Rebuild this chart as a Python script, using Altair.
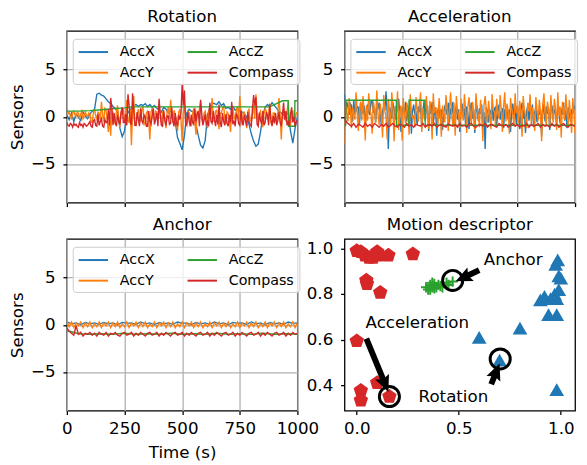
import math
import altair as alt
import pandas as pd

FONT = "DejaVu Sans"

# ---------------- time-series data ----------------
ROT_ACCX_STEP = 10
ROT_ACCX = [0.2, -0.3, 0.4, -0.5, 0.3, 0.0, -0.4, 0.5, 0.1, -0.2,
            0.3, 0.6, 0.8, 2.4, 2.5, 2.3, 2.2, 1.9, 1.6, 1.4,
            1.1, 0.9, 0.5, -1.2, -2.1, -1.5, 0.2, 0.6, 0.9, 1.2,
            1.3, 1.1, 1.3, 1.2, 1.4, 1.1, 1.3, 1.0, 1.2, 0.9,
            0.7, 0.5, 1.0, 0.8, 0.4, 0.6, 0.3, -0.5, -2.2, -2.8,
            -3.5, -2.0, 0.4, 0.8, 0.6, 0.5, -0.8, -2.0, -3.0, -3.3,
            -2.5, 0.2, 1.0, 1.5, 1.4, 1.3, 1.6, 1.2, 1.4, 0.9,
            1.0, 0.8, 1.1, 0.7, 0.9, 0.6, 0.5, 0.3, 0.0, -0.8,
            -1.8, -2.6, -3.1, -2.9, -1.6, 0.2, 1.0, 1.3, 1.1, 1.5,
            1.2, 0.9, 0.6, 0.4, 0.2, 0.5, 0.3, -1.5, -2.8, -1.2,
            0.0]
ROT_ACCY_STEP = 5
ROT_ACCY = [0.9, 0.3, 0.5, 0.1, -0.3, 0.4, 0.6, 0.2, 0.1, 0.5, 0.4, -0.2, 0.3, 0.6, -0.2, 0.1, 0.5, 0.2, 0.0, 0.4,
            0.3, -0.5, -0.6, 0.4, 0.8, 0.1, -0.2, 0.5, 0.4, -0.3, 1.6, 0.2, -0.5, 0.9, 0.7, -0.4, -1.6, 0.3, -2.0, 0.6,
            0.5, -0.4, -0.8, 0.6, 1.2, -0.2, -1.1, 0.4, 0.3, 0.9, -0.4, 0.2, 1.8, -0.5, -0.6, 0.8, -3.0, 0.5, 2.2, -0.7,
            -1.0, 0.3, 0.8, -0.2, -0.4, 0.7, 1.1, -0.6, -0.9, 0.4, 0.6, -0.3, -2.4, 0.5, 0.9, -0.1, -0.3, 0.6, 0.5, -0.4,
            1.3, 0.2, -0.7, 0.5, 0.4, -0.3, -1.2, 0.6, 1.0, -0.2, 1.8, 0.3, -0.6, 0.7, 0.2, -0.4, -1.5, 0.5, 0.8, -0.3,
            -2.6, 0.4, 1.4, -0.2, -0.8, 0.6, 0.5, -0.5, -1.0, 0.3, 0.9, -0.4, -1.9, 0.5, 0.3, 0.8, 1.6, -0.3, -0.7, 0.4,
            0.6, -0.2, -1.2, 0.5, 1.0, 0.2, 2.0, -0.4, -0.5, 0.6, 0.7, -0.3, -1.3, 0.4, 0.4, 0.9, 1.2, -0.2, -0.8, 0.5,
            0.3, -0.4, -1.6, 0.6, 0.9, 0.1, -0.4, 0.7, 1.1, -0.3, 2.2, 0.4, -0.9, 0.5, 0.5, -0.2, -1.2, 0.6, 0.8, -0.4,
            -0.5, 0.3, 1.3, -0.2, 2.4, 0.5, -0.7, 0.4, 0.6, -0.5, -1.1, 0.3, 0.9, 0.6, -0.3, 0.2, 1.4, -0.6, -0.9, 0.4,
            0.4, -0.3, -0.6, 0.5, 2.0, 0.3, -2.4, 0.4, 0.7, -0.2, -0.4, 0.6, 1.5, -0.3, -1.0, 0.5, 0.6, -0.2, -0.3, 0.4,
            0.5]
ROT_COMPASS_STEP = 5
ROT_COMPASS = [-0.6, -0.9, -1.0, -0.7, -0.8, -1.1, -0.7, -0.9, -0.8, -1.0, -1.1, -0.6, -0.9, -0.8, -1.1, -0.7, -0.8, -1.0, -0.9, -0.7,
               -0.5, -1.0, -1.1, -0.4, -0.3, -0.9, -1.0, 0.3, -0.9, -0.5, -0.2, -1.0, -1.1, -0.3, -0.6, -0.6, 0.8, -0.9, 2.0, 1.0,
               -0.9, 0.4, -0.6, -1.0, 0.2, -0.5, -0.8, 0.5, 1.0, -0.6, -0.6, 0.3, -0.9, 2.4, 1.2, -0.5, -0.9, 2.5, 0.6, -0.9,
               -0.9, 0.5, -0.3, -1.0, 0.9, -0.4, -0.7, 0.2, 0.0, -1.0, -1.0, 0.6, -0.5, -0.8, 0.1, 0.9, -0.8, -0.3, 0.4, -1.0,
               1.9, 0.3, -0.9, -1.0, 0.7, -0.4, -0.9, 0.1, 0.1, -0.8, -0.7, 1.0, -0.5, -1.0, 0.4, -0.6, -1.0, 0.2, -0.3, 0.4,
               3.5, 1.2, 2.8, -0.7, -0.9, 0.5, -0.4, -1.0, 0.2, -0.6, -0.8, 0.9, -0.5, 0.3, 0.6, -1.0, 1.8, 0.3, -0.9, -0.4,
               0.3, -0.9, -0.5, -1.0, 1.5, -0.5, -0.7, 0.6, -0.3, -1.0, 0.2, -0.8, 1.3, -0.6, -1.1, 0.4, -0.5, -0.9, 0.3, -0.7,
               -1.0, 0.2, -0.6, 1.6, -0.8, -0.4, -1.0, 0.3, 0.1, -0.7, -0.9, 0.7, -0.5, -0.9, 0.2, -0.4, -1.0, 0.5, -0.5, -0.8,
               -1.0, 0.9, 2.3, 1.2, 2.1, -0.8, -1.0, 0.4, -0.4, -0.8, 0.6, -0.9, -0.6, 0.5, 0.2, -0.9, 1.3, -0.3, -1.0, 0.1,
               -0.7, 0.4, -0.9, -0.4, 0.5, -0.6, -1.0, 0.2, 1.5, -0.3, 0.6, -0.9, -0.5, -1.0, 0.3, 1.0, -0.6, 0.0, -1.0, -0.5,
               -0.4]
ROT_ACCZ_T = [0, 50, 100, 150, 200, 250, 280, 500, 880, 935, 960, 961, 988, 989, 1000]
ROT_ACCZ = [0.6, 0.6, 0.65, 0.75, 0.85, 0.95, 1.05, 1.05, 1.05, 1.7, 1.7, -1.0, -1.0, 1.7, 1.7]

ACC_ACCX_STEP = 5
ACC_ACCX = [2.4, 0.6, 1.6, 1.0, 0.2, 1.4, 1.2, -0.5, 1.8, 0.3, 0.6, 1.1, 1.0, -0.8, 1.5, 0.7, 0.4, 1.2, -1.2, 0.9,
            1.3, 0.5, 0.2, 1.6, 1.7, 0.4, 0.9, -0.6, 1.2, 0.8, 1.5, 0.3, -1.0, 0.6, 1.1, 0.7, 2.7, 0.4, -3.4, 1.0,
            0.7, -0.2, 1.5, 0.9, -0.3, 1.2, 0.6, 1.9, 0.1, -1.6, 1.0, 0.5, 0.4, 1.6, -0.5, 0.8, 0.9, 1.8, -1.8, 0.6,
            1.3, 0.2, 0.6, -0.9, 1.1, 0.5, 1.4, -1.3, 0.6, 1.7, -0.4, 0.8, 1.2, -1.5, 0.9, 0.3, 1.6, -0.7, 0.5, 1.0,
            -2.0, 0.7, 1.3, -0.2, 0.8, -1.4, 0.4, 1.1, 0.9, 0.2, 1.5, -0.6, 0.9, 0.3, 1.6, -1.0, 0.5, 1.2, -0.3, 0.8,
            -1.6, 0.6, 1.4, 0.0, 0.9, -0.8, 1.1, 0.4, -1.3, 0.7, 1.5, -0.2, 0.8, -1.7, 0.6, 1.2, -0.4, 0.9, 0.3, 1.3,
            -1.1, 0.5, -3.4, 1.0, 0.6, -0.6, 0.7, 0.2, 1.4, -0.4, 0.8, 1.1, -0.9, 0.5, 1.3, -0.3, 0.6, 0.9, -1.2, 0.8,
            0.5, 1.2, -0.3, 0.8, -1.6, 0.6, 1.4, 0.0, 0.9, -0.8, 1.1, 0.4, -1.3, 0.7, 1.5, -0.2, 0.8, -1.7, 0.6, 1.2,
            -0.4, 0.9, 0.3, 1.3, -1.1, 0.5, 1.0, -0.6, 0.7, 0.2, 0.8, -2.0, 1.4, 0.6, -0.5, 1.1, 0.3, 0.9, -1.4, 0.7,
            1.2, -0.3, 0.8, 0.4, -1.0, 1.3, 0.6, -0.7, 0.9, 0.2, 1.5, -0.4, 0.7, -1.2, 1.0, 0.5, -0.5, 0.8, 0.3, 1.1,
            0.8]
ACC_ACCY_STEP = 5
ACC_ACCY = [-2.8, 1.5, 0.4, -0.5, 2.0, 0.8, -1.2, 1.0, 0.2, -0.3, 2.6, 0.5, -1.5, 0.8, 1.6, -0.4, 2.2, 0.3, -2.5, 1.2,
            -0.4, 2.5, 0.7, 0.3, -1.8, 1.6, 0.9, -0.6, 2.8, 0.4, -0.9, 1.4, 0.1, -2.2, 2.3, 0.6, 0.0, -2.4, 1.9, 0.5,
            -1.0, 2.6, 0.8, -2.6, 1.1, 0.3, 2.7, -1.4, 0.6, 1.2, -2.5, 2.0, 0.2, -0.7, 1.5, 0.9, -1.9, 2.4, 0.4, -0.2,
            0.2, -1.1, 2.1, 0.7, -0.5, 1.3, 2.6, -1.6, 0.9, 0.1, -0.3, 2.2, 0.5, -1.3, 1.7, 0.8, -2.4, 2.5, 0.4, 1.0,
            0.4, -1.0, 2.0, 0.6, -2.1, 1.2, 0.3, -0.6, 2.3, 0.9, -1.5, 0.8, 2.6, 0.2, -0.9, 1.5, -2.0, 2.2, 0.7, 0.1,
            -1.2, 1.9, 0.5, -0.4, 2.4, 0.8, -1.7, 1.0, 2.1, 0.3, -0.8, 1.6, 0.6, -1.4, 2.5, 0.9, 0.3, -1.1, 1.8, 0.4,
            -2.6, 1.3, 2.2, 0.6, -0.6, 1.7, 0.2, -1.3, 2.4, 0.8, 0.5, -0.9, 1.9, 0.3, -0.2, 2.3, 0.7, -1.6, 1.1, 2.6,
            -0.5, 1.4, 0.6, -1.8, 2.0, 0.9, 0.2, -1.0, 2.5, 0.4, 1.2, -0.7, 1.7, 0.5, -2.1, 2.2, 0.8, 0.0, -1.2, 1.5,
            0.6, 2.4, -0.8, 1.0, 0.3, -1.5, 2.1, 0.7, -0.4, 1.8, 0.5, -2.6, 1.3, 2.5, 0.2, -0.9, 1.6, 0.8, -1.1, 2.3,
            0.4, -0.6, 1.9, 0.9, -1.4, 2.6, 0.1, 1.1, -2.2, 1.6, 0.7, -0.3, 2.4, 0.5, -1.0, 1.8, 0.3, -1.7, 2.0, 0.6,
            -1.8]
ACC_COMPASS_STEP = 10
ACC_COMPASS = [-0.2, -0.6, -0.8, -1.0, -0.7, -1.1, -0.8, -0.9, -1.1, -0.7,
               -1.0, -0.8, -1.1, -0.7, -0.9, -1.1, -0.8, -1.0, -0.7, -1.1,
               -0.9, -0.7, -1.0, -1.1, -0.8, -0.9, -1.1, -0.7, -1.0, -0.8,
               -1.1, -0.8, -0.9, -1.0, -0.7, -1.1, -0.9, -0.8, -1.0, -0.7,
               -1.1, -0.9, -0.8, -1.0, -1.1, -0.7, -0.9, -1.0, -0.8, -1.1,
               -0.7, -1.0, -0.9, -1.1, -0.8, -0.7, -1.0, -1.1, -0.9, -0.8,
               -1.0, -0.7, -1.1, -0.9, -0.8, -1.0, -1.1, -0.7, -0.9, -1.0,
               -0.8, -1.1, -0.9, -0.7, -1.0, -0.8, -1.1, -0.9, -1.0, -0.7,
               -1.1, -0.8, -1.0, -0.9, -0.7, -1.1, -0.8, -1.0, -0.9, -1.1,
               -0.7, -1.0, -0.8, -1.1, -0.9, -0.7, -1.0, -1.1, -0.8, -0.9,
               -1.0]
ACC_ACCZ_T = [0, 5, 6, 225, 226, 279, 280, 349, 350, 1000]
ACC_ACCZ = [-0.9, -0.9, 1.75, 1.75, -0.9, -0.9, 1.75, 1.75, -0.9, -0.9]

ANC_ACCY_STEP = 10
ANC_ACCY = [0.4, -0.2, 0.3, -0.3, 0.2, -0.1, 0.3, -0.3, 0.2, -0.2,
            0.3, -0.3, 0.1, -0.2, 0.3, -0.3, 0.2, -0.1, 0.3, -0.3,
            0.2, -0.2, 0.3, -0.3, 0.1, -0.2, 0.3, -0.3, 0.2, -0.1,
            0.3, -0.3, 0.2, -0.2, 0.3, -0.3, 0.1, -0.2, 0.3, -0.3,
            0.2, -0.1, 0.3, -0.3, 0.2, -0.2, 0.3, -0.3, 0.1, -0.2,
            0.3, -0.3, 0.2, -0.1, 0.3, -0.3, 0.2, -0.2, 0.3, -0.3,
            0.1, -0.2, 0.3, -0.3, 0.2, -0.1, 0.3, -0.3, 0.2, -0.2,
            0.3, -0.3, 0.1, -0.2, 0.3, -0.3, 0.2, -0.1, 0.3, -0.3,
            0.2, -0.2, 0.3, -0.3, 0.1, -0.2, 0.3, -0.3, 0.2, -0.1,
            0.3, -0.3, 0.2, -0.2, 0.3, -0.3, 0.1, -0.2, 0.3, -0.3,
            0.2]
ANC_COMPASS_STEP = 10
ANC_COMPASS = [-0.3, -0.7, -0.9, -1.1, -0.1, -1.0, -0.8, -1.2, -0.9, -1.0,
               -0.8, -1.1, -0.9, -1.2, -0.8, -1.0, -1.1, -0.8, -1.2, -0.9,
               -1.0, -0.8, -1.1, -1.2, -0.9, -0.8, -1.1, -1.0, -0.8, -1.2,
               -0.9, -1.1, -0.8, -1.0, -1.2, -0.9, -0.8, -1.1, -1.0, -0.8,
               -1.2, -0.9, -1.1, -0.8, -1.0, -1.2, -0.9, -0.8, -1.1, -1.0,
               -0.8, -1.2, -0.9, -1.1, -0.8, -1.0, -1.2, -0.9, -0.8, -1.1,
               -1.0, -0.8, -1.2, -0.9, -1.1, -0.8, -1.0, -1.2, -0.9, -0.8,
               -1.1, -1.0, -0.8, -1.2, -0.9, -1.1, -0.8, -1.0, -1.2, -0.9,
               -0.8, -1.1, -1.0, -0.8, -1.2, -0.9, -1.1, -0.8, -1.0, -1.2,
               -0.9, -0.8, -1.1, -1.0, -0.8, -1.2, -0.9, -1.1, -0.8, -1.0,
               -0.9]
ANC_ACCX_STEP = 20
ANC_ACCX = [0.3, 0.1, 0.2, 0.0, 0.25, 0.1, 0.2, 0.05, 0.25, 0.1,
            0.2, 0.0, 0.25, 0.15, 0.2, 0.05, 0.3, 0.1, 0.2, 0.0,
            0.25, 0.1, 0.2, 0.05, 0.3, 0.15, 0.2, 0.0, 0.25, 0.1,
            0.2, 0.05, 0.3, 0.1, 0.2, 0.0, 0.25, 0.15, 0.2, 0.05,
            0.3, 0.1, 0.2, 0.0, 0.25, 0.1, 0.2, 0.05, 0.3, 0.15,
            0.2]
ANC_ACCZ_STEP = 50
ANC_ACCZ = [-0.6, -0.95, -1.0, -0.95, -1.0, -0.9, -1.0, -0.95, -1.0, -0.9, -1.0,
            -0.95, -1.0, -0.9, -1.0, -0.95, -1.0, -0.9, -1.0, -0.95, -1.0]

# ---------------- motion descriptor data ----------------
ACC_PTS_X = [0.0, 0.02, 0.04, 0.06, 0.08, 0.10, 0.11, 0.155, 0.275, 0.047, 0.05, 0.115, 0.0, 0.02, 0.02, 0.10, 0.16]
ACC_PTS_Y = [0.99, 0.985, 0.97, 0.96, 0.96, 0.985, 0.97, 0.97, 0.975, 0.86, 0.845, 0.806, 0.594, 0.376, 0.333, 0.41, 0.35]
ANC_PTS_X = [0.34, 0.35, 0.36, 0.37, 0.38, 0.38, 0.39, 0.40, 0.41, 0.42, 0.37, 0.36, 0.44, 0.47, 0.45]
ANC_PTS_Y = [0.83, 0.82, 0.84, 0.83, 0.825, 0.845, 0.83, 0.84, 0.835, 0.83, 0.85, 0.82, 0.85, 0.855, 0.84]
ROT_PTS_X = [0.60, 0.70, 0.80, 0.90, 0.92, 0.94, 0.95, 0.97, 0.98, 0.99, 0.98, 0.975, 0.985, 0.99, 1.0, 0.98]
ROT_PTS_Y = [0.61, 0.51, 0.65, 0.775, 0.79, 0.71, 0.78, 0.80, 0.71, 0.82, 0.78, 0.93, 0.95, 0.88, 0.87, 0.38]

ANNOT_LABELS = ["Acceleration", "Anchor", "Rotation"]
ANNOT_CIRCLE_X = [0.16, 0.47, 0.703]
ANNOT_CIRCLE_Y = [0.35, 0.86, 0.515]
ANNOT_TIP_X = [0.155, 0.485, 0.70]
ANNOT_TIP_Y = [0.37, 0.856, 0.495]
ANNOT_TAIL_X = [0.047, 0.60, 0.659]
ANNOT_TAIL_Y = [0.604, 0.905, 0.404]
ANNOT_TEXT_X = [0.043, 0.623, 0.303]
ANNOT_TEXT_Y = [0.672, 0.95, 0.346]

# ---------------- styling ----------------
SERIES_ORDER = ["AccX", "AccY", "AccZ", "Compass"]
SERIES_COLORS = ["#1f77b4", "#ff7f0e", "#2ca02c", "#d62728"]
W, H = 235, 175

TS_X = alt.Scale(domain=[0, 1000], nice=False, zero=False)
TS_Y = alt.Scale(domain=[-9.1, 9.1], nice=False, zero=False)
CSCALE = alt.Scale(domain=SERIES_ORDER, range=SERIES_COLORS)


def times(step, n):
    return [i * step for i in range(n)]


def legend():
    return alt.Legend(orient="none", legendX=6, legendY=8, columns=2, title=None,
                      symbolType="M-1,0L3,0", symbolSize=225, symbolStrokeWidth=2,
                      symbolFillColor="transparent",
                      labelFont=FONT, labelFontSize=14.5, labelColor="black", labelOffset=26,
                      columnPadding=29, rowPadding=6, padding=5, labelLimit=300,
                      fillColor="rgba(255,255,255,0.8)", strokeColor="#cccccc",
                      cornerRadius=3)


def ts_panel(title, series, bottom, left):
    xaxis = alt.Axis(values=[0, 250, 500, 750, 1000], labels=bottom, format="d",
                     title="Time (s)" if bottom else None, grid=True,
                     labelPadding=6, titlePadding=9)
    yaxis = alt.Axis(values=[-5, 0, 5], title="Sensors" if left else None, grid=True,
                     labelPadding=8, titlePadding=4)
    layers = []
    for name in SERIES_ORDER:
        t, v = series[name]
        df = pd.DataFrame({"t": t, "v": v, "s": [name] * len(t)})
        layers.append(
            alt.Chart(df).mark_line(strokeWidth=1.4, clip=True).encode(
                x=alt.X("t:Q", scale=TS_X, axis=xaxis),
                y=alt.Y("v:Q", scale=TS_Y, axis=yaxis),
                color=alt.Color("s:N", scale=CSCALE, legend=legend()),
            )
        )
    return alt.layer(*layers).properties(width=W, height=H, title=title)


rot = ts_panel("Rotation", {
    "AccX": (times(ROT_ACCX_STEP, len(ROT_ACCX)), ROT_ACCX),
    "AccY": (times(ROT_ACCY_STEP, len(ROT_ACCY)), ROT_ACCY),
    "AccZ": (ROT_ACCZ_T, ROT_ACCZ),
    "Compass": (times(ROT_COMPASS_STEP, len(ROT_COMPASS)), ROT_COMPASS)}, False, True)
acc = ts_panel("Acceleration", {
    "AccX": (times(ACC_ACCX_STEP, len(ACC_ACCX)), ACC_ACCX),
    "AccY": (times(ACC_ACCY_STEP, len(ACC_ACCY)), ACC_ACCY),
    "AccZ": (ACC_ACCZ_T, ACC_ACCZ),
    "Compass": (times(ACC_COMPASS_STEP, len(ACC_COMPASS)), ACC_COMPASS)}, False, False)
anc = ts_panel("Anchor", {
    "AccX": (times(ANC_ACCX_STEP, len(ANC_ACCX)), ANC_ACCX),
    "AccY": (times(ANC_ACCY_STEP, len(ANC_ACCY)), ANC_ACCY),
    "AccZ": (times(ANC_ACCZ_STEP, len(ANC_ACCZ)), ANC_ACCZ),
    "Compass": (times(ANC_COMPASS_STEP, len(ANC_COMPASS)), ANC_COMPASS)}, True, True)

# ---------------- motion descriptor panel ----------------
XD = [-0.06, 1.07]
YD = [0.288, 1.042]
SX = alt.Scale(domain=XD, nice=False, zero=False)
SY = alt.Scale(domain=YD, nice=False, zero=False)
AX = alt.Axis(values=[0.0, 0.5, 1.0], format=".1f", grid=False, title=None, labelPadding=6)
AY = alt.Axis(values=[0.4, 0.6, 0.8, 1.0], format=".1f", grid=False, title=None, labelPadding=8)

PENTAGON = "M0,-1L0.951,-0.309L0.588,0.809L-0.588,0.809L-0.951,-0.309Z"
PLUS = "M-1,0L1,0M0,-1L0,1"
HEAD = "M0,0L0.95,2.1L0,1.75L-0.95,2.1Z"
HEAD_SIZE = 256  # scale = sqrt(size)/2 = 8 px per unit


def to_px(x, y):
    return ((x - XD[0]) / (XD[1] - XD[0]) * W, (YD[1] - y) / (YD[1] - YD[0]) * H)


def to_data(px, py):
    return (XD[0] + px / W * (XD[1] - XD[0]), YD[1] - py / H * (YD[1] - YD[0]))


angles, ends_x, ends_y = [], [], []
for tx, ty, hx, hy in zip(ANNOT_TAIL_X, ANNOT_TAIL_Y, ANNOT_TIP_X, ANNOT_TIP_Y):
    p0 = to_px(tx, ty)
    p1 = to_px(hx, hy)
    dx, dy = p1[0] - p0[0], p1[1] - p0[1]
    n = math.hypot(dx, dy)
    angles.append(math.degrees(math.atan2(dx, -dy)) % 360)
    ex, ey = to_data(p1[0] - dx / n * 12, p1[1] - dy / n * 12)
    ends_x.append(ex)
    ends_y.append(ey)

red_df = pd.DataFrame({"x": ACC_PTS_X, "y": ACC_PTS_Y})
green_df = pd.DataFrame({"x": ANC_PTS_X, "y": ANC_PTS_Y})
blue_df = pd.DataFrame({"x": ROT_PTS_X, "y": ROT_PTS_Y})
ann_df = pd.DataFrame({
    "label": ANNOT_LABELS, "cx": ANNOT_CIRCLE_X, "cy": ANNOT_CIRCLE_Y,
    "tx": ANNOT_TAIL_X, "ty": ANNOT_TAIL_Y, "ex": ends_x, "ey": ends_y,
    "hx": ANNOT_TIP_X, "hy": ANNOT_TIP_Y, "ang": angles,
    "lx": ANNOT_TEXT_X, "ly": ANNOT_TEXT_Y})

reds = alt.Chart(red_df).mark_point(shape=PENTAGON, filled=True, color="#d62728", size=240,
                                    opacity=1, strokeWidth=0).encode(
    x=alt.X("x:Q", scale=SX, axis=AX), y=alt.Y("y:Q", scale=SY, axis=AY))
greens = alt.Chart(green_df).mark_point(shape=PLUS, filled=False, color="#2ca02c", size=110,
                                        opacity=1, strokeWidth=2).encode(
    x=alt.X("x:Q", scale=SX, axis=AX), y=alt.Y("y:Q", scale=SY, axis=AY))
blues = alt.Chart(blue_df).mark_point(shape="triangle-up", filled=True, color="#1f77b4", size=225,
                                      opacity=1, strokeWidth=0).encode(
    x=alt.X("x:Q", scale=SX, axis=AX), y=alt.Y("y:Q", scale=SY, axis=AY))
base = alt.Chart(ann_df)
circles = base.mark_point(shape="circle", filled=False, color="black", size=420,
                          opacity=1, strokeWidth=3).encode(
    x=alt.X("cx:Q", scale=SX, axis=AX), y=alt.Y("cy:Q", scale=SY, axis=AY))
shafts = base.mark_rule(color="black", strokeWidth=6).encode(
    x=alt.X("tx:Q", scale=SX, axis=AX), y=alt.Y("ty:Q", scale=SY, axis=AY),
    x2="ex:Q", y2="ey:Q")
heads = base.mark_point(shape=HEAD, filled=True, color="black", size=HEAD_SIZE,
                        opacity=1, strokeWidth=0).encode(
    x=alt.X("hx:Q", scale=SX, axis=AX), y=alt.Y("hy:Q", scale=SY, axis=AY),
    angle=alt.Angle("ang:Q", scale=None))
texts = base.mark_text(font=FONT, fontSize=17, align="left", baseline="middle",
                       color="black").encode(
    x=alt.X("lx:Q", scale=SX, axis=AX), y=alt.Y("ly:Q", scale=SY, axis=AY),
    text="label:N")

motion = alt.layer(reds, greens, blues, circles, shafts, heads, texts).properties(
    width=W, height=H, title="Motion descriptor")

chart = alt.concat(rot, acc, anc, motion, columns=2, bounds="flush",
                   spacing={"row": 37, "column": 48}).resolve_scale(
    color="independent").resolve_legend(color="independent").properties(
    padding={"left": 0, "top": -5, "right": 0, "bottom": 0}
).configure_view(stroke="black", strokeWidth=1.3).configure_axis(
    labelFont=FONT, labelFontSize=17, labelColor="black", tickColor="black",
    tickSize=4, tickWidth=1.3, domain=False, gridColor="#b0b0b0", gridWidth=1.3,
    titleFont=FONT, titleFontSize=17, titleFontWeight="normal", titleColor="black",
    labelFlush=False, labelOverlap=False
).configure_title(font=FONT, fontSize=17, fontWeight="normal", anchor="middle",
                  offset=5, color="black")

chart.save("out.html", embed_options={"renderer": "svg", "actions": False})
